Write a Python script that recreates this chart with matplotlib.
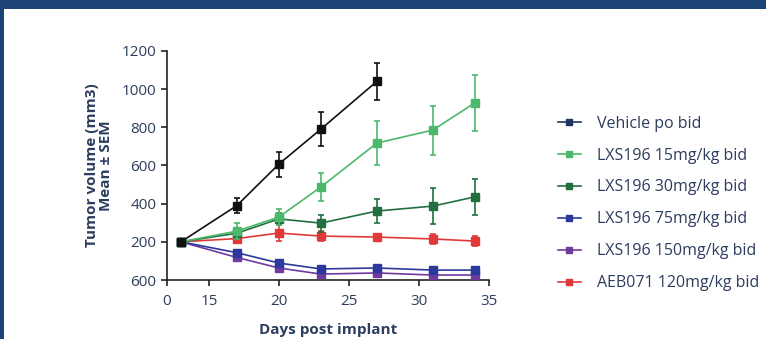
import matplotlib.pyplot as plt
import matplotlib.patches as patches

plt.rcParams['font.family'] = ['Open Sans', 'DejaVu Sans']

days = [13, 17, 20, 23, 27, 31, 34]
vehicle_days = [13, 17, 20, 23, 27]

vehicle = [200, 390, 607, 790, 1040]
vehicle_err = [0, 37, 65, 90, 95]
lxs15 = [200, 256, 330, 487, 717, 785, 927]
lxs15_err = [0, 40, 40, 75, 115, 128, 146]
lxs30 = [200, 245, 320, 298, 361, 387, 435]
lxs30_err = [0, 20, 30, 45, 65, 95, 95]
lxs75 = [200, 143, 89, 58, 63, 52, 52]
lxs75_err = [0, 8, 8, 6, 6, 6, 6]
lxs150 = [200, 118, 63, 31, 37, 26, 26]
lxs150_err = [0, 8, 6, 5, 5, 5, 5]
aeb = [200, 217, 246, 230, 225, 215, 204]
aeb_err = [0, 10, 40, 25, 10, 25, 25]

labels = ["Vehicle po bid", "LXS196 15mg/kg bid", "LXS196 30mg/kg bid",
          "LXS196 75mg/kg bid", "LXS196 150mg/kg bid", "AEB071 120mg/kg bid"]
colors = ["#111111", "#4cb86c", "#236f3f", "#2b3a9a", "#6e3a9e", "#e0393a"]
legend_colors = ["#1e3560", "#4cb86c", "#236f3f", "#2b3a9a", "#6e3a9e", "#e0393a"]

x_ticks = [12, 15, 20, 25, 30, 35]
x_ticklabels = ["0", "15", "20", "25", "30", "35"]
y_ticks = [0, 200, 400, 600, 800, 1000, 1200]
y_ticklabels = ["600", "200", "400", "600", "800", "1000", "1200"]

text_color = "#2d3d5e"

fig = plt.figure(figsize=(7.66, 3.39), dpi=100)
fig.patches.append(patches.Rectangle((0, 1 - 9 / 339), 1, 9 / 339, transform=fig.transFigure,
                                     facecolor="#1c4477", edgecolor="none"))
fig.patches.append(patches.Rectangle((0, 0), 4 / 766, 1, transform=fig.transFigure,
                                     facecolor="#1c4477", edgecolor="none"))

ax = fig.add_axes([0.218, 0.174, 0.420, 0.676])

series = [(vehicle_days, vehicle, vehicle_err), (days, lxs15, lxs15_err), (days, lxs30, lxs30_err),
          (days, lxs75, lxs75_err), (days, lxs150, lxs150_err), (days, aeb, aeb_err)]
order = [5, 4, 3, 2, 1, 0]
for i in order:
    xs, ys, es = series[i]
    ax.errorbar(xs, ys, yerr=es, color=colors[i], marker='s', markersize=6, linewidth=1.2,
                elinewidth=1.2, capsize=2.5, capthick=1.2, zorder=3 + (5 - i))

ax.set_xlim(12, 35)
ax.set_ylim(0, 1200)
ax.set_xticks(x_ticks)
ax.set_xticklabels(x_ticklabels)
ax.set_yticks(y_ticks)
ax.set_yticklabels(y_ticklabels)
ax.spines['top'].set_visible(False)
ax.spines['right'].set_visible(False)
for s in ['left', 'bottom']:
    ax.spines[s].set_linewidth(1.2)
    ax.spines[s].set_color("#222222")
ax.tick_params(length=4, width=1.2, color="#222222", labelsize=11, labelcolor=text_color)
ax.tick_params(axis='x', pad=6)

ax.set_xlabel("Days post implant", fontsize=11, fontweight='bold', color=text_color, labelpad=10)
ax.set_ylabel("Tumor volume (mm3)\nMean ± SEM", fontsize=11, fontweight='bold',
              color=text_color, labelpad=6, linespacing=1.0)

handles = [plt.Line2D([], [], color=c, marker='s', markersize=5, linewidth=1.2) for c in legend_colors]
fig.legend(handles, labels, loc='upper left', bbox_to_anchor=(0.72, 0.678), frameon=False,
           fontsize=11.5, labelcolor=text_color, handlelength=1.45, handletextpad=1.0,
           labelspacing=1.0, numpoints=1, borderaxespad=0)

plt.savefig("out.png", dpi=100)
